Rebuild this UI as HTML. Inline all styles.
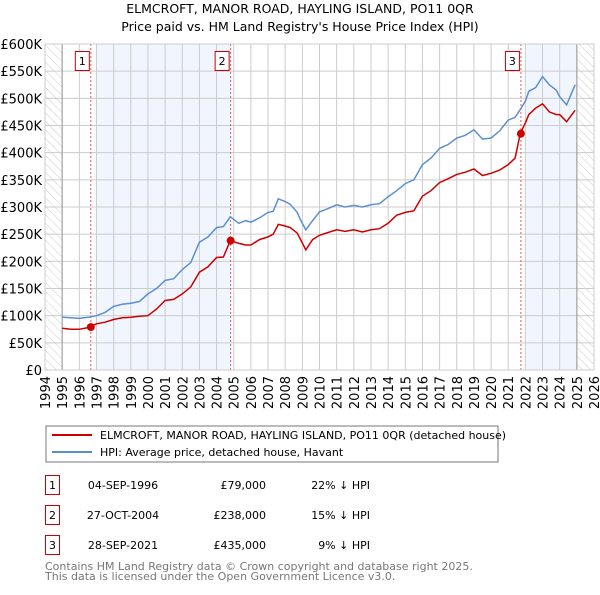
<!DOCTYPE html>
<html><head><meta charset="utf-8"><style>
body{margin:0;background:#fff;font-family:"Liberation Sans","DejaVu Sans",sans-serif}
svg text{font-family:"DejaVu Sans","Liberation Sans",sans-serif}
</style></head><body>
<svg id="c" width="600" height="590" xmlns="http://www.w3.org/2000/svg">
<defs><pattern id="hatch" width="6" height="6" patternUnits="userSpaceOnUse" patternTransform="rotate(-45)"><line x1="0" y1="0" x2="0" y2="6" stroke="#ccc" stroke-width="1"/></pattern></defs>
<text x="300" y="13" text-anchor="middle" font-size="12.5">ELMCROFT, MANOR ROAD, HAYLING ISLAND, PO11 0QR</text>
<text x="300" y="31" text-anchor="middle" font-size="12.5">Price paid vs. HM Land Registry's House Price Index (HPI)</text>
<g id="plot"></g>
<rect x="46" y="426" width="452" height="36" fill="#fff" stroke="#777"/>
<line x1="52" y1="435" x2="92" y2="435" stroke="#cc0000" stroke-width="2"/>
<text x="100" y="439" font-size="11">ELMCROFT, MANOR ROAD, HAYLING ISLAND, PO11 0QR (detached house)</text>
<line x1="52" y1="452" x2="92" y2="452" stroke="#5b8fd0" stroke-width="2"/>
<text x="100" y="456" font-size="11">HPI: Average price, detached house, Havant</text>
<g font-size="11">
<rect x="45.5" y="475.5" width="14" height="19" fill="#fff" stroke="#cc0000"/><text x="52.5" y="489" text-anchor="middle">1</text>
<text x="123" y="489" text-anchor="middle">04-SEP-1996</text><text x="266" y="489" text-anchor="end">£79,000</text><text x="370" y="489" text-anchor="end">22% ↓ HPI</text>
<rect x="45.5" y="505.5" width="14" height="19" fill="#fff" stroke="#cc0000"/><text x="52.5" y="519" text-anchor="middle">2</text>
<text x="123" y="519" text-anchor="middle">27-OCT-2004</text><text x="266" y="519" text-anchor="end">£238,000</text><text x="370" y="519" text-anchor="end">15% ↓ HPI</text>
<rect x="45.5" y="535.5" width="14" height="19" fill="#fff" stroke="#cc0000"/><text x="52.5" y="549" text-anchor="middle">3</text>
<text x="123" y="549" text-anchor="middle">28-SEP-2021</text><text x="266" y="549" text-anchor="end">£435,000</text><text x="370" y="549" text-anchor="end">9% ↓ HPI</text>
</g>
<text x="45" y="570" font-size="11" fill="#777">Contains HM Land Registry data © Crown copyright and database right 2025.</text>
<text x="45" y="580" font-size="11" fill="#777">This data is licensed under the Open Government Licence v3.0.</text>
</svg>
<script>
const years=[1995,1995.5,1996,1996.5,1997,1997.5,1998,1998.5,1999,1999.5,2000,2000.5,2001,2001.5,2002,2002.5,2003,2003.5,2004,2004.4,2004.8,2005.3,2005.7,2006,2006.5,2007,2007.3,2007.6,2008,2008.3,2008.7,2008.9,2009.2,2009.6,2010,2010.5,2011,2011.5,2012,2012.5,2013,2013.5,2014,2014.5,2015,2015.5,2016,2016.5,2017,2017.5,2018,2018.5,2019,2019.5,2020,2020.5,2021,2021.4,2021.7,2022,2022.2,2022.6,2023,2023.4,2023.8,2024,2024.4,2024.9];
const hpiValues=[97,96,95,97,100,106,117,121,123,126,140,150,165,168,185,198,235,245,262,264,282,270,275,272,280,290,292,315,310,305,290,276,258,275,291,297,304,300,303,300,304,306,319,330,343,350,378,390,408,415,427,432,442,425,427,440,460,465,479,495,513,520,540,525,515,503,488,525];
const priceValues=[77,75,75,78,85,88,93,96,97,99,100,112,128,130,140,153,180,190,207,208,238,233,230,230,240,245,250,268,265,262,252,240,221,240,248,253,258,255,258,254,258,260,270,285,290,293,320,330,345,352,360,364,370,358,362,368,378,390,435,455,470,482,490,475,470,470,457,478];
const saleYears=[1996.67,2004.82,2021.74];
const salePrices=[79,238,435];
const saleLabels=["1","2","3"];
const yTicks=[0,50,100,150,200,250,300,350,400,450,500,550,600];
const yTickLabels=["£0","£50K","£100K","£150K","£200K","£250K","£300K","£350K","£400K","£450K","£500K","£550K","£600K"];
const xTicks=[1994,1995,1996,1997,1998,1999,2000,2001,2002,2003,2004,2005,2006,2007,2008,2009,2010,2011,2012,2013,2014,2015,2016,2017,2018,2019,2020,2021,2022,2023,2024,2025,2026];

const NS="http://www.w3.org/2000/svg";
const X=y=>45+(y-1994)*(549/32);
const Y=v=>370-v*(326/600);
const g=document.getElementById('plot');
function mk(t,a){const e=document.createElementNS(NS,t);for(const k in a)e.setAttribute(k,a[k]);g.appendChild(e);return e;}
let e;
e=mk('rect',{x:X(1997),y:Y(600),width:X(2004.82)-X(1997),height:Y(0)-Y(600),fill:'#eef3fc',opacity:0.8});


e=mk('rect',{x:X(2022),y:Y(600),width:X(2025)-X(2022),height:Y(0)-Y(600),fill:'#eef3fc',opacity:0.8});


e=mk('rect',{x:X(1994),y:Y(600),width:X(1995)-X(1994),height:Y(0)-Y(600),fill:'url(#hatch)'});


e=mk('rect',{x:X(2025),y:Y(600),width:X(2026)-X(2025),height:Y(0)-Y(600),fill:'url(#hatch)'});


yTicks.forEach((v,i)=>{
 e=mk('line',{x1:X(1994),x2:X(2026),y1:Y(v),y2:Y(v),stroke:'#ccc','stroke-width':1});
 
 
 e=mk('text',{x:42,y:Y(v)+5,'text-anchor':'end','font-size':13});
 e.textContent=yTickLabels[i];
 
 
});
xTicks.forEach(t=>{
 e=mk('line',{x1:X(t),x2:X(t),y1:Y(600),y2:Y(0),stroke:'#ccc','stroke-width':1});
 
 
 e=mk('text',{x:0,y:0,'font-size':13,'text-anchor':'end',transform:`translate(${X(t)+5},${376}) rotate(-90)`});
 e.textContent=t;
 
 
});
[1995,2025].forEach(t=>{e=mk('line',{x1:X(t),x2:X(t),y1:Y(600),y2:Y(0),stroke:'#999','stroke-width':1});
 
 });
saleYears.forEach((s,i)=>{
 e=mk('line',{x1:X(s),x2:X(s),y1:Y(600),y2:Y(0),stroke:'#ee5555','stroke-width':1,'stroke-dasharray':'2,2'});
 
 
 e=mk('rect',{x:X(s)-15.5,y:51.5,width:14,height:19,fill:'#fff',stroke:'#cc0000'});
 
 
 e=mk('text',{x:X(s)-8.5,y:65,'text-anchor':'middle','font-size':11});
 e.textContent=saleLabels[i];
 
 
});
e=mk('path',{d:years.map((y,i)=>(i?'L':'M')+X(y).toFixed(1)+','+Y(hpiValues[i]).toFixed(1)).join(''),fill:'none',stroke:'#5b8fd0','stroke-width':1.5});


e=mk('path',{d:years.map((y,i)=>(i?'L':'M')+X(y).toFixed(1)+','+Y(priceValues[i]).toFixed(1)).join(''),fill:'none',stroke:'#cc0000','stroke-width':1.5});


saleYears.forEach((s,i)=>{
 e=mk('circle',{cx:X(s),cy:Y(salePrices[i]),r:4,fill:'#cc0000'});
 
 
});
e=mk('rect',{x:X(1994),y:Y(600),width:X(2026)-X(1994),height:Y(0)-Y(600),fill:'none',stroke:'#ccc'});


</script>
</body></html>
